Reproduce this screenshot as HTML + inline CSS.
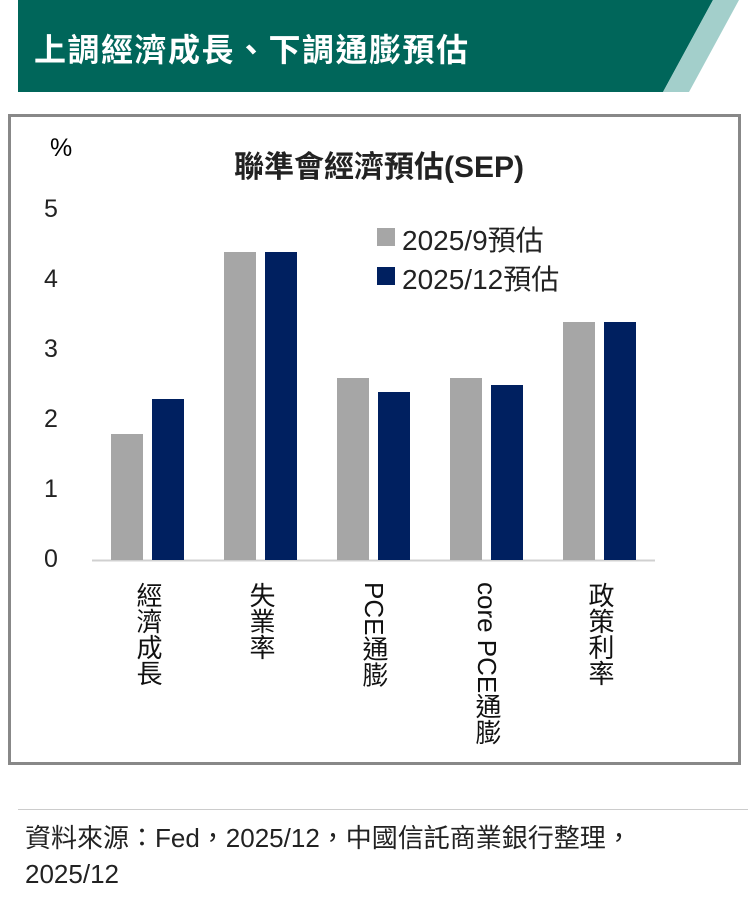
<!DOCTYPE html>
<html><head><meta charset="utf-8"><style>
body{margin:0;width:750px;height:904px;background:#fff;font-family:"Liberation Sans","Noto Sans CJK TC",sans-serif;position:relative;overflow:hidden}
.a{position:absolute}
.v{position:absolute;writing-mode:vertical-rl;font-size:26px;color:#111;top:582px;line-height:1}
.yl{position:absolute;left:44px;font-size:25px;color:#222;width:30px}
</style></head><body>
<svg class="a" style="left:0;top:0" width="750" height="95">
<polygon points="18,0 713,0 663,92 18,92" fill="#00665A"/>
<polygon points="713,0 739,0 689,92 663,92" fill="#A3CFCB"/>
</svg>
<div class="a" style="left:34px;top:25px;font-size:32px;color:#fff;font-weight:bold;letter-spacing:1.5px">上調經濟成長、下調通膨預估</div>
<div class="a" style="left:8px;top:114px;width:727px;height:645px;border:3px solid #888"></div>
<div class="a" style="left:50px;top:134px;font-size:25px">%</div>
<div class="a" style="left:0;width:758px;top:142px;text-align:center;font-size:30px;font-weight:bold;color:#222">聯準會經濟預估(SEP)</div>
<div class="yl" style="top:195px">5</div>
<div class="yl" style="top:265px">4</div>
<div class="yl" style="top:335px">3</div>
<div class="yl" style="top:405px">2</div>
<div class="yl" style="top:475px">1</div>
<div class="yl" style="top:545px">0</div>
<svg class="a" style="left:0;top:0" width="750" height="600">
<line x1="92" y1="560.5" x2="655" y2="560.5" stroke="#d0d0d0" stroke-width="2"/>
<g fill="#A6A6A6">
<rect x="111" y="434" width="32" height="126"/>
<rect x="224" y="252" width="32" height="308"/>
<rect x="337" y="378" width="32" height="182"/>
<rect x="450" y="378" width="32" height="182"/>
<rect x="563" y="322" width="32" height="238"/>
<rect x="377" y="228" width="18" height="18"/>
</g>
<g fill="#002060">
<rect x="152" y="399" width="32" height="161"/>
<rect x="265" y="252" width="32" height="308"/>
<rect x="378" y="392" width="32" height="168"/>
<rect x="491" y="385" width="32" height="175"/>
<rect x="604" y="322" width="32" height="238"/>
<rect x="377" y="267" width="18" height="18"/>
</g>
</svg>
<div class="a" style="left:402px;top:219px;font-size:28px;color:#222">2025/9預估</div>
<div class="a" style="left:402px;top:258px;font-size:28px;color:#222">2025/12預估</div>
<div class="v" style="left:135px">經濟成長</div>
<div class="v" style="left:248px">失業率</div>
<div class="v" style="left:361px">PCE通膨</div>
<div class="v" style="left:474px">core PCE通膨</div>
<div class="v" style="left:587px">政策利率</div>
<div class="a" style="left:18px;top:809px;width:730px;height:1px;background:#ccc"></div>
<div class="a" style="left:25px;top:820px;font-size:26px;color:#222;line-height:36px">資料來源：Fed，2025/12，中國信託商業銀行整理，<br>2025/12</div>
</body></html>
